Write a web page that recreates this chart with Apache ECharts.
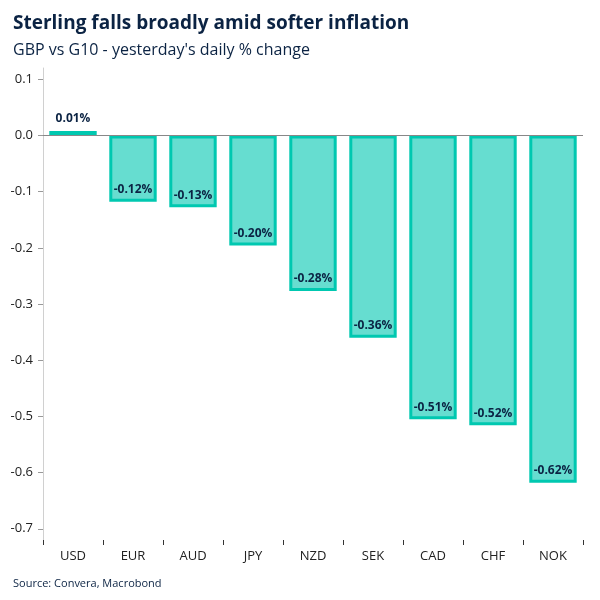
<!DOCTYPE html>
<html><head><meta charset="utf-8">
<script src="https://cdn.jsdelivr.net/npm/echarts@6/dist/echarts.min.js"></script>
<style>html,body{margin:0;padding:0;background:#fff}#c{width:600px;height:600px}</style>
</head><body><div id="c"></div>
<script>
const categories = ['USD','EUR','AUD','JPY','NZD','SEK','CAD','CHF','NOK'];
const values = [0.008,-0.118,-0.128,-0.196,-0.277,-0.36,-0.505,-0.516,-0.618];
const valueLabels = ['0.01%','-0.12%','-0.13%','-0.20%','-0.28%','-0.36%','-0.51%','-0.52%','-0.62%'];
const yTicks = [-0.7,-0.6,-0.5,-0.4,-0.3,-0.2,-0.1,0.0,0.1];
const titleText = 'Sterling falls broadly amid softer inflation';
const subtitleText = "GBP vs G10 - yesterday's daily % change";
const sourceText = 'Source: Convera, Macrobond';

const FONT = '"Open Sans", "Noto Sans", sans-serif';
const chart = echarts.init(document.getElementById('c'), null, {renderer:'canvas'});
chart.setOption({
  animation:false,
  textStyle:{fontFamily:FONT},
  title:[
    {text:titleText,left:8,top:9,textStyle:{fontFamily:FONT,fontSize:19,fontWeight:'bold',color:'#0b2343'}},
    {text:subtitleText,left:8,top:37,textStyle:{fontFamily:FONT,fontSize:16,fontWeight:'normal',color:'#0b2343'}},
    {text:sourceText,left:8,top:573,textStyle:{fontFamily:FONT,fontSize:11,fontWeight:'normal',color:'#0b2343'}}
  ],
  grid:{left:43,right:17,top:68,bottom:60,containLabel:false},
  xAxis:{
    type:'category',data:categories,position:'bottom',
    axisLine:{show:false,onZero:false},
    axisTick:{show:true,alignWithLabel:false,length:5,lineStyle:{color:'#333'}},
    axisLabel:{color:'#222',fontSize:13,margin:10,fontFamily:FONT}
  },
  yAxis:{
    type:'value',min:-0.72,max:0.12,
    splitLine:{show:false},
    axisLine:{show:true,lineStyle:{color:'#d0d0d0'}},
    axisTick:{show:true,length:5,lineStyle:{color:'#999'},customValues:yTicks},
    axisLabel:{customValues:yTicks,color:'#222',fontSize:13,margin:10,fontFamily:FONT,
      formatter:v=>v.toFixed(1)}
  },
  series:[{
    type:'bar',
    data:values.map((v,i)=>({value:v,label:{position:v>=0?'top':'insideBottom',formatter:valueLabels[i]}})),
    barCategoryGap:'21%',
    itemStyle:{color:'#66ddd0',borderColor:'#00c8b0',borderWidth:3},
    label:{show:true,fontWeight:'bold',fontSize:12,color:'#0b2343',fontFamily:FONT,distance:6},
    markLine:{silent:true,symbol:'none',label:{show:false},lineStyle:{color:'#888',type:'solid',width:1},data:[{yAxis:0}]}
  }]
});
</script></body></html>
